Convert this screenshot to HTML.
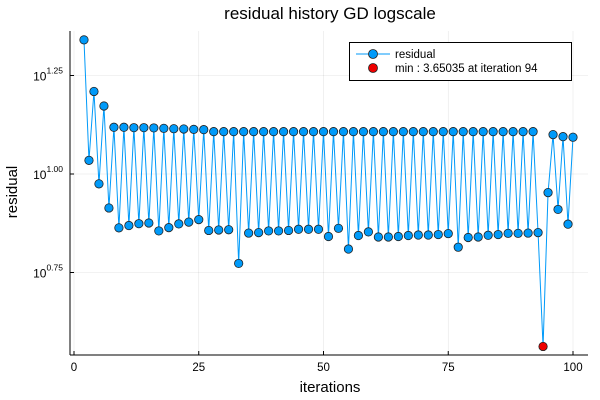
<!DOCTYPE html>
<html><head><meta charset="utf-8"><style>body{margin:0;background:#fff}svg{display:block;font-family:"Liberation Sans","DejaVu Sans",sans-serif}</style></head>
<body>
<svg id="chart" width="600" height="400" viewBox="0 0 600 400">
<rect width="600" height="400" fill="#fff"/>
<text x="330" y="19" text-anchor="middle" font-size="17" fill="#000">residual history GD logscale</text>
<text x="330" y="392" text-anchor="middle" font-size="15">iterations</text>
<text transform="translate(17,192) rotate(-90)" text-anchor="middle" font-size="15">residual</text>
<g id="grid"></g><g id="axes"></g><g id="series"></g>
<g>
<rect x="349.5" y="42.5" width="222" height="38" fill="#fff" stroke="#000" stroke-width="1"/>
<line x1="356" y1="54" x2="390" y2="54" stroke="#009af9" stroke-width="1"/>
<circle cx="373" cy="54" r="4.5" fill="#009af9" stroke="#222" stroke-width="0.8"/>
<text x="395" y="58" font-size="11.5">residual</text>
<circle cx="373" cy="68" r="4.5" fill="#e00" stroke="#222" stroke-width="0.8"/>
<text x="395" y="72" font-size="11.5">min : 3.65035 at iteration 94</text>
</g>
</svg>
<script>
const iterations = [2,3,4,5,6,7,8,9,10,11,12,13,14,15,16,17,18,19,20,21,22,23,24,25,26,27,28,29,30,31,32,33,34,35,36,37,38,39,40,41,42,43,44,45,46,47,48,49,50,51,52,53,54,55,56,57,58,59,60,61,62,63,64,65,66,67,68,69,70,71,72,73,74,75,76,77,78,79,80,81,82,83,84,85,86,87,88,89,90,91,92,93,94,95,96,97,98,99,100];
const residuals = [21.9,10.83,16.2,9.44,14.88,8.2,13.14,7.30,13.14,7.40,13.11,7.48,13.11,7.51,13.09,7.17,13.06,7.31,13.03,7.47,13.01,7.55,12.98,7.66,12.96,7.19,12.81,7.21,12.81,7.22,12.81,5.93,12.81,7.08,12.81,7.10,12.81,7.17,12.81,7.17,12.81,7.19,12.81,7.24,12.81,7.24,12.81,7.24,12.81,6.94,12.81,7.28,12.81,6.45,12.81,6.98,12.81,7.13,12.81,6.92,12.81,6.92,12.81,6.94,12.81,6.98,12.81,7.00,12.81,7.00,12.81,7.02,12.81,7.06,12.81,6.52,12.81,6.90,12.81,6.92,12.81,6.99,12.81,7.02,12.81,7.07,12.81,7.07,12.81,7.08,12.81,7.10,3.65035,8.97,12.59,8.13,12.44,7.46,12.40];
const minIteration = 94;
const xTicks = [0,25,50,75,100];
const yTickExps = [0.75,1.00,1.25];
const NS='http://www.w3.org/2000/svg';
const X0=74, XS=4.99, YREF=174, YS=394;
function xs(v){return X0+v*XS;}
function ys(v){return YREF-(Math.log10(v)-1)*YS;}
function mk(tag,attrs,parent){const e=document.createElementNS(NS,tag);for(const k in attrs)e.setAttribute(k,attrs[k]);parent.appendChild(e);return e;}
const grid=document.getElementById('grid'),axes=document.getElementById('axes'),series=document.getElementById('series');
const L=70,R=588,T=31,B=355;
xTicks.forEach(t=>{
  const g=mk('line',{x1:xs(t),x2:xs(t),y1:T,y2:B,stroke:'#000','stroke-opacity':0.1,'stroke-width':0.6},grid);
  
  
  const tk=mk('line',{x1:xs(t),x2:xs(t),y1:B,y2:B-4,stroke:'#000','stroke-width':1},axes);
  
  
  const tx=mk('text',{x:xs(t),y:B+16,'text-anchor':'middle','font-size':11.5},axes);
  tx.textContent=t;
  
  
});
yTickExps.forEach(e=>{
  const y=YREF-(e-1)*YS;
  const g=mk('line',{x1:L,x2:R,y1:y,y2:y,stroke:'#000','stroke-opacity':0.1,'stroke-width':0.6},grid);
  
  
  const tk=mk('line',{x1:L,x2:L+4,y1:y,y2:y,stroke:'#000','stroke-width':1},axes);
  
  
  const tx=mk('text',{x:L-7,y:y+5,'text-anchor':'end','font-size':12},axes);
  
  
  tx.textContent='10';
  const sp=mk('tspan',{'font-size':8.5,dy:-7},tx);
  sp.textContent=e.toFixed(2);
});
const ax1=mk('line',{x1:L,x2:L,y1:T,y2:B,stroke:'#000','stroke-width':1},axes);


const ax2=mk('line',{x1:L,x2:R,y1:B,y2:B,stroke:'#000','stroke-width':1},axes);


const pts=iterations.map((it,i)=>xs(it)+','+ys(residuals[i])).join(' ');
const line=mk('polyline',{points:pts,fill:'none',stroke:'#009af9','stroke-width':1},series);


iterations.forEach((it,i)=>{
  const isMin=it===minIteration;
  const c=mk('circle',{cx:xs(it),cy:ys(residuals[i]),r:4.2,fill:isMin?'#e00':'#009af9',stroke:'#222','stroke-width':0.8},series);
  
  
});
</script>
</body></html>
